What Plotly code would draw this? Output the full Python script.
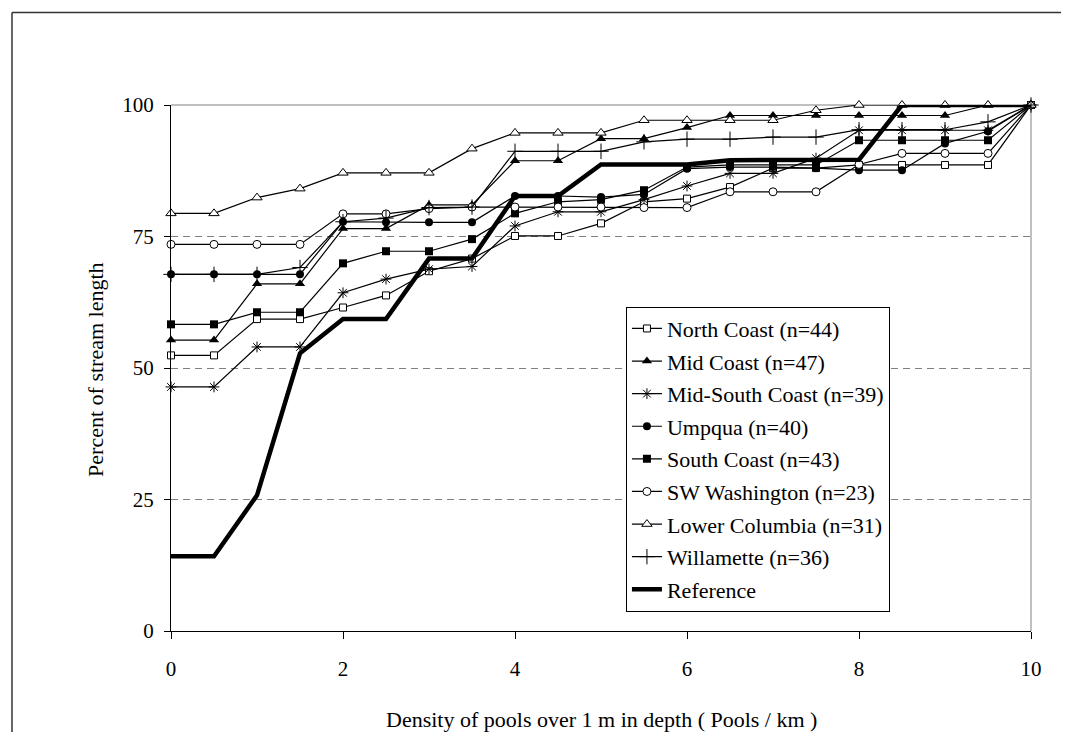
import plotly.graph_objects as go

density = [0, 0.5, 1, 1.5, 2, 2.5, 3, 3.5, 4, 4.5, 5, 5.5, 6, 6.5, 7, 7.5, 8, 8.5, 9, 9.5, 10]

north_coast = [52.4, 52.4, 59.3, 59.3, 61.5, 63.8, 68.4, 70.8, 75.1, 75.1, 77.5, 81.6, 82.2, 84.4, 88.0, 88.0, 88.6, 88.6, 88.6, 88.6, 100]
mid_coast = [55.3, 55.3, 66.0, 66.0, 76.5, 76.5, 81.0, 81.0, 89.4, 89.4, 93.6, 93.6, 95.7, 98.0, 98.0, 98.0, 98.0, 98.0, 98.0, 100, 100]
mid_south_coast = [46.4, 46.4, 54.0, 54.0, 64.3, 66.9, 68.8, 69.3, 77.0, 79.7, 79.7, 82.0, 84.6, 87.0, 87.0, 89.9, 95.2, 95.2, 95.2, 95.2, 100]
umpqua = [67.8, 67.8, 67.8, 67.8, 77.8, 77.7, 77.7, 77.7, 82.7, 82.7, 82.5, 83.0, 87.9, 88.2, 88.2, 88.0, 87.6, 87.6, 92.7, 95.0, 100]
south_coast = [58.3, 58.3, 60.6, 60.6, 69.9, 72.2, 72.2, 74.5, 79.4, 81.6, 82.0, 83.8, 88.2, 88.6, 88.6, 88.6, 93.3, 93.3, 93.3, 93.3, 100]
sw_washington = [73.5, 73.5, 73.5, 73.5, 79.3, 79.3, 80.3, 80.6, 80.6, 80.6, 80.6, 80.5, 80.5, 83.5, 83.5, 83.5, 88.7, 90.8, 90.8, 90.8, 100]
lower_columbia = [79.4, 79.4, 82.4, 84.1, 87.1, 87.1, 87.1, 91.7, 94.7, 94.7, 94.7, 97.1, 97.1, 97.1, 97.1, 99.0, 100, 100, 100, 100, 100]
willamette = [67.8, 67.8, 67.8, 69.1, 77.8, 78.5, 80.5, 80.6, 91.2, 91.2, 91.2, 93.0, 93.5, 93.5, 93.9, 93.9, 95.3, 95.3, 95.3, 96.8, 100]
reference = [14.2, 14.2, 25.8, 52.8, 59.3, 59.3, 70.8, 70.8, 82.7, 82.7, 88.7, 88.7, 88.7, 89.5, 89.5, 89.5, 89.6, 100, 100, 100, 100]

series_names = ["North Coast (n=44)", "Mid Coast (n=47)", "Mid-South Coast (n=39)", "Umpqua (n=40)",
                "South Coast (n=43)", "SW Washington (n=23)", "Lower Columbia (n=31)", "Willamette (n=36)"]
series_values = [north_coast, mid_coast, mid_south_coast, umpqua, south_coast, sw_washington,
                 lower_columbia, willamette]

y_ticks = [0, 25, 50, 75, 100]
x_ticks = [0, 2, 4, 6, 8, 10]

FONT = "Liberation Serif, Times New Roman, serif"

marker_styles = [
    dict(symbol="square", color="white", size=7, line=dict(color="black", width=1)),
    dict(symbol="triangle-up", color="black", size=9, line=dict(color="black", width=0)),
    dict(symbol="asterisk-open", color="black", size=9, line=dict(color="black", width=1)),
    dict(symbol="circle", color="black", size=8, line=dict(color="black", width=0)),
    dict(symbol="square", color="black", size=8, line=dict(color="black", width=0)),
    dict(symbol="circle", color="white", size=8, line=dict(color="black", width=1)),
    dict(symbol="triangle-up", color="white", size=9, line=dict(color="black", width=1)),
    dict(symbol="cross-thin-open", color="black", size=11, line=dict(color="black", width=1)),
]

fig = go.Figure()
for i, (name, vals, ms) in enumerate(zip(series_names, series_values, marker_styles)):
    fig.add_trace(go.Scatter(
        x=density, y=vals, name=name, mode="lines+markers",
        line=dict(color="black", width=1.2),
        marker=ms, cliponaxis=False, legendgroup=f"g{i}",
    ))
fig.add_trace(go.Scatter(
    x=density, y=reference, name="Reference", mode="lines",
    line=dict(color="black", width=4.5), cliponaxis=False, legendgroup="gref",
))

fig.update_layout(
    width=1069, height=732,
    margin=dict(l=163, r=46, t=97, b=109),
    paper_bgcolor="white", plot_bgcolor="white",
    font=dict(family=FONT, size=21, color="black"),
    showlegend=True,
    legend=dict(
        x=0.529, y=0.6166, xanchor="left", yanchor="top",
        bgcolor="white", bordercolor="black", borderwidth=1,
        font=dict(family=FONT, size=22, color="black"),
        tracegroupgap=1, itemwidth=30,
    ),
    xaxis=dict(
        range=[0, 10], tickvals=x_ticks, ticktext=[str(v) for v in x_ticks],
        showgrid=False, zeroline=False,
        showline=True, linecolor="black", linewidth=1,
        ticks="outside", ticklen=7, tickcolor="black", tickwidth=1,
        ticklabelstandoff=12,
        tickfont=dict(family=FONT, size=21, color="black"),
    ),
    yaxis=dict(
        range=[0, 100], tickvals=y_ticks, ticktext=[str(v) for v in y_ticks],
        showgrid=True, gridcolor="#808080", gridwidth=1, griddash="7px,5px",
        zeroline=False,
        showline=True, linecolor="black", linewidth=1,
        ticks="outside", ticklen=6, tickcolor="black", tickwidth=1,
        ticklabelstandoff=6,
        tickfont=dict(family=FONT, size=21, color="black"),
    ),
    annotations=[
        dict(text="Percent of stream length", xref="paper", yref="paper",
             x=-0.087, y=0.4967, textangle=-90, showarrow=False,
             xanchor="center", yanchor="middle",
             font=dict(family=FONT, size=22, color="black")),
        dict(text="Density of pools over 1 m in depth ( Pools / km )", xref="paper", yref="paper",
             x=0.501, y=-0.1675, showarrow=False, xanchor="center", yanchor="middle",
             font=dict(family=FONT, size=22, color="black")),
    ],
    shapes=[
        # plot-area border (top and right) in gray
        dict(type="line", xref="paper", yref="paper", x0=0, x1=1, y0=1, y1=1,
             line=dict(color="#808080", width=1), layer="between"),
        dict(type="line", xref="paper", yref="paper", x0=1, x1=1, y0=0, y1=1,
             line=dict(color="#808080", width=1), layer="between"),
        # outer chart frame (top and left visible)
        dict(type="line", xref="paper", yref="paper", x0=-0.1849, x1=1.2, y0=1.176, y1=1.176,
             line=dict(color="#333333", width=1.5)),
        dict(type="line", xref="paper", yref="paper", x0=-0.1849, x1=-0.1849, y0=-0.3, y1=1.176,
             line=dict(color="#333333", width=1.5)),
    ],
)

fig.write_html("out.html")
